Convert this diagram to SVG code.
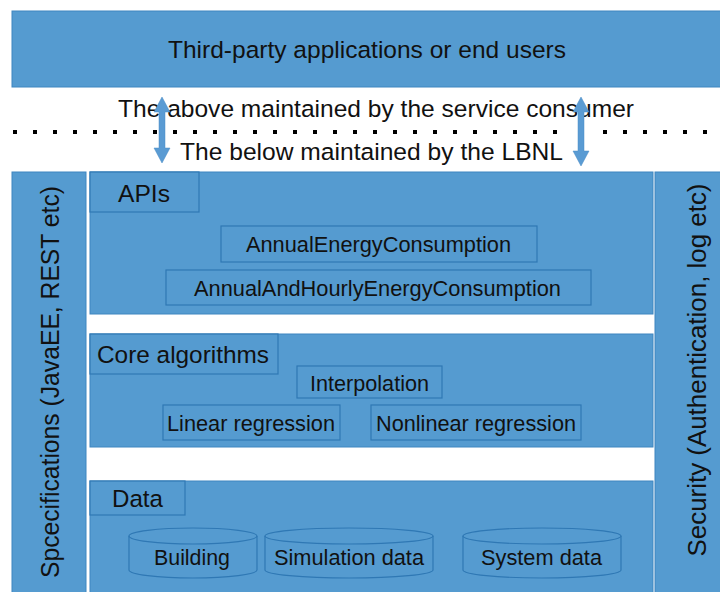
<svg xmlns="http://www.w3.org/2000/svg" width="720" height="592" viewBox="0 0 720 592">
<style>
.box{fill:#559bd0;stroke:#2f78b4;stroke-width:1.2}
.panel{fill:#559bd0;stroke:#3f86c0;stroke-width:1}
.t{font-family:"Liberation Sans",Arial,sans-serif;fill:#111;text-anchor:middle;dominant-baseline:central}
.big{font-size:24.5px}
.mid{font-size:22px}
.side{font-size:25px}
.arrow{fill:#5a9bd3;stroke:#4a8cc6;stroke-width:0.5}
</style>
<rect width="720" height="592" fill="#fff"/>
<g id="top">
<rect class="panel" x="12" y="11" width="716" height="76"/>
<text class="t big" x="367" y="49" textLength="398" lengthAdjust="spacingAndGlyphs">Third-party applications or end users</text>
</g>
<g id="labels">
<text class="t big" x="376" y="108" textLength="516" lengthAdjust="spacingAndGlyphs">The above maintained by the service consumer</text>
<text class="t big" x="371.5" y="151" textLength="383" lengthAdjust="spacingAndGlyphs">The below maintained by the LBNL</text>
</g>
<g id="divider">
<line x1="13" y1="132" x2="565" y2="132" stroke="#000" stroke-width="4" stroke-dasharray="4 16"/>
<line x1="603" y1="132" x2="715" y2="132" stroke="#000" stroke-width="4" stroke-dasharray="4 16"/>
</g>
<g id="connectors">
<polygon class="arrow" points="162,97 170,112 165,112 165,148 170,148 162,163 154,148 159,148 159,112 154,112"/>
<polygon class="arrow" points="581,97 589,112 584,112 584,151 589,151 581,166 573,151 578,151 578,112 573,112"/>
</g>
<g id="specifications">
<rect class="panel" x="12" y="172" width="74" height="430"/>
<text class="t side" x="50" y="382" transform="rotate(-90 50 382)" textLength="392" lengthAdjust="spacingAndGlyphs">Spcecifications (JavaEE, REST etc)</text>
</g>
<g id="security">
<rect class="panel" x="655" y="172" width="80" height="430"/>
<text class="t side" x="697" y="370" transform="rotate(-90 697 370)" textLength="373" lengthAdjust="spacingAndGlyphs">Security (Authentication, log etc)</text>
</g>
<g id="apis">
<rect class="panel" x="90" y="172" width="563" height="142"/>
<rect class="box" x="90" y="172" width="109" height="40"/>
<text class="t big" x="144" y="193" textLength="52" lengthAdjust="spacingAndGlyphs">APIs</text>
</g>
<g id="annual">
<rect class="box" x="221" y="226" width="316" height="36"/>
<text class="t mid" x="378.5" y="244" textLength="265" lengthAdjust="spacingAndGlyphs">AnnualEnergyConsumption</text>
</g>
<g id="hourly">
<rect class="box" x="166" y="270" width="425" height="35"/>
<text class="t mid" x="377.5" y="288" textLength="367" lengthAdjust="spacingAndGlyphs">AnnualAndHourlyEnergyConsumption</text>
</g>
<g id="core">
<rect class="panel" x="90" y="334" width="563" height="113"/>
<rect class="box" x="90" y="334" width="188" height="40"/>
<text class="t big" x="183" y="354" textLength="172" lengthAdjust="spacingAndGlyphs">Core algorithms</text>
</g>
<g id="interpolation">
<rect class="box" x="297" y="366" width="145" height="32"/>
<text class="t mid" x="369.5" y="383" textLength="119" lengthAdjust="spacingAndGlyphs">Interpolation</text>
</g>
<g id="linear">
<rect class="box" x="163" y="405" width="177" height="35"/>
<text class="t mid" x="251" y="423" textLength="168" lengthAdjust="spacingAndGlyphs">Linear regression</text>
</g>
<g id="nonlinear">
<rect class="box" x="371" y="405" width="210" height="35"/>
<text class="t mid" x="476" y="423" textLength="200" lengthAdjust="spacingAndGlyphs">Nonlinear regression</text>
</g>
<g id="data">
<rect class="panel" x="90" y="481" width="563" height="120"/>
<rect class="box" x="90" y="481" width="95" height="34"/>
<text class="t big" x="137.5" y="498" textLength="51" lengthAdjust="spacingAndGlyphs">Data</text>
</g>
<g id="building">
<path class="box" d="M129,536 A64,8 0 0 1 257,536 L257,570 A64,8 0 0 1 129,570 Z"/>
<path d="M129,536 A64,8 0 0 0 257,536" fill="none" stroke="#2f78b4" stroke-width="1.2"/>
<text class="t mid" x="192" y="557" textLength="76" lengthAdjust="spacingAndGlyphs">Building</text>
</g>
<g id="simulation">
<path class="box" d="M265,536 A84,8 0 0 1 433,536 L433,570 A84,8 0 0 1 265,570 Z"/>
<path d="M265,536 A84,8 0 0 0 433,536" fill="none" stroke="#2f78b4" stroke-width="1.2"/>
<text class="t mid" x="349" y="557" textLength="150" lengthAdjust="spacingAndGlyphs">Simulation data</text>
</g>
<g id="system">
<path class="box" d="M463,536 A79,8 0 0 1 621,536 L621,570 A79,8 0 0 1 463,570 Z"/>
<path d="M463,536 A79,8 0 0 0 621,536" fill="none" stroke="#2f78b4" stroke-width="1.2"/>
<text class="t mid" x="541.5" y="557" textLength="121" lengthAdjust="spacingAndGlyphs">System data</text>
</g>
</svg>
